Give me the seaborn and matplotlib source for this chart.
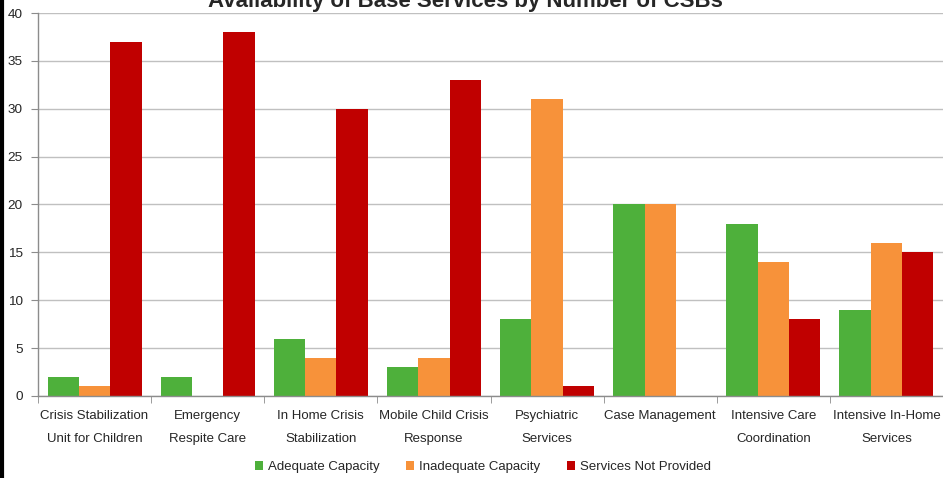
import matplotlib
matplotlib.use("Agg")
import matplotlib.pyplot as plt
import seaborn as sns
import pandas as pd
from matplotlib.lines import Line2D
from matplotlib.patches import Patch

categories = ["Crisis Stabilization\nUnit for Children", "Emergency\nRespite Care",
              "In Home Crisis\nStabilization", "Mobile Child Crisis\nResponse",
              "Psychiatric\nServices", "Case Management", "Intensive Care\nCoordination",
              "Intensive In-Home\nServices"]
series = ["Adequate Capacity", "Inadequate Capacity", "Services Not Provided"]
adequate = [2, 2, 6, 3, 8, 20, 18, 9]
inadequate = [1, 0, 4, 4, 31, 20, 14, 16]
not_provided = [37, 38, 30, 33, 1, 0, 8, 15]
colors = ["#4EB03B", "#F7923A", "#C00000"]

rows = []
for s, vals in zip(series, [adequate, inadequate, not_provided]):
    for c, v in zip(categories, vals):
        rows.append({"cat": c, "series": s, "value": v})
df = pd.DataFrame(rows)

sns.set_style("white")
plt.rcParams['font.family'] = ['Liberation Sans', 'DejaVu Sans']

fig = plt.figure(figsize=(9.43, 4.78), dpi=100)
ax = fig.add_axes([38/943, 1-396/478, 1-38/943, (396-13)/478])
sns.barplot(data=df, x="cat", y="value", hue="series", order=categories, hue_order=series,
            palette=colors, width=0.83, saturation=1, ax=ax, legend=False, linewidth=0)

ax.set_xlim(-0.5, len(categories)-0.5)
ax.set_ylim(0, 40)
ax.set_yticks(range(0, 41, 5))
ax.yaxis.grid(True, color="#C0C0C0", linewidth=1)
ax.set_axisbelow(True)
ax.set_xlabel("")
ax.set_ylabel("")
for sp in ["top", "right"]:
    ax.spines[sp].set_visible(False)
for sp in ["left", "bottom"]:
    ax.spines[sp].set_color("#8C8C8C")
    ax.spines[sp].set_linewidth(1)

ax.set_xticks([i + 0.5 for i in range(-1, len(categories))], minor=True)
ax.tick_params(axis="x", which="minor", length=5, color="#8C8C8C", direction="out", bottom=True)
ax.tick_params(axis="x", which="major", length=0, pad=10, labelsize=9.5)
ax.tick_params(axis="y", which="major", length=5, color="#8C8C8C", direction="out", left=True, labelsize=9.7, pad=6)
for lab in ax.get_xticklabels():
    lab.set_linespacing(2.2)
    lab.set_verticalalignment("top")

fig.text(0.494, 1-7/478, "Availability of Base Services by Number of CSBs", ha="center",
         va="baseline", fontsize=16, fontweight="bold")

handles = [Patch(facecolor=c, edgecolor="none", label=s) for c, s in zip(colors, series)]
fig.legend(handles=handles, loc="center", bbox_to_anchor=(0.512, 1-467/478), ncol=3,
           frameon=False, fontsize=9.5, handlelength=0.6, handleheight=0.6,
           handletextpad=0.4, columnspacing=2.0)

fig.add_artist(Line2D([0.0025, 0.0025], [0, 1], transform=fig.transFigure, color="black", linewidth=3))

fig.savefig("out.png", dpi=100)
